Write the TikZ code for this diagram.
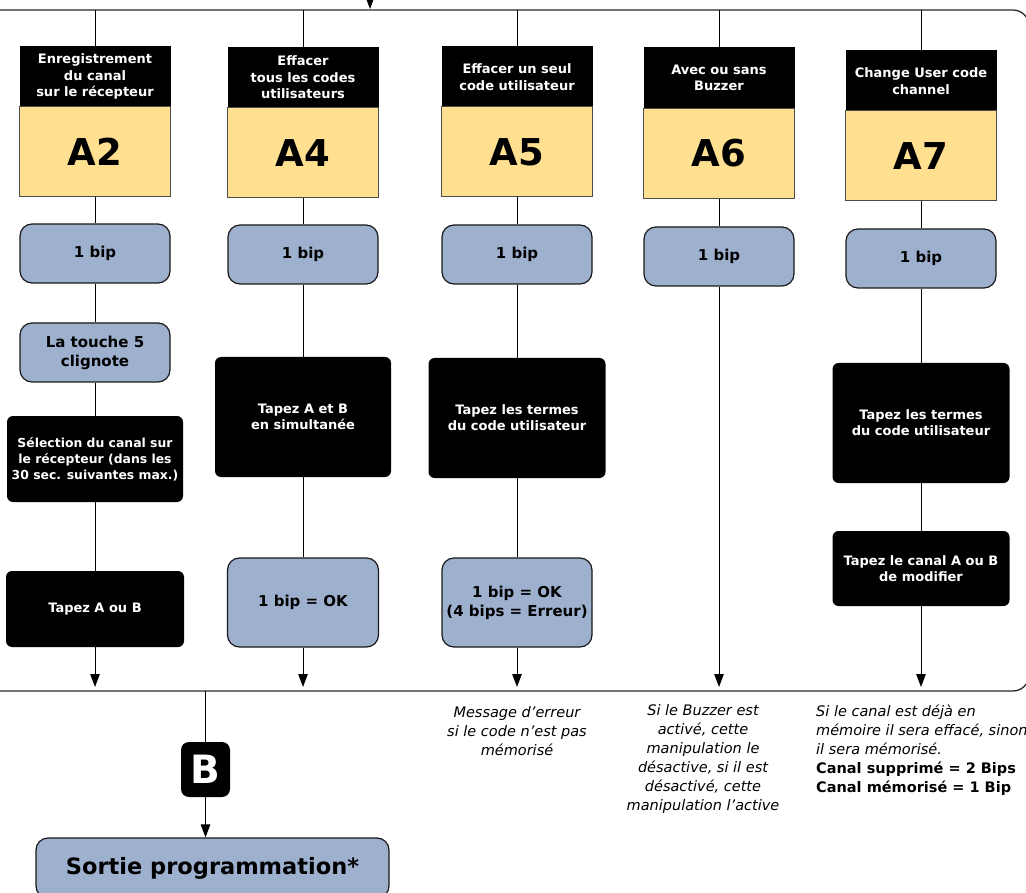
\documentclass[tikz,border=0pt]{standalone}
\usepackage{fontspec}
\setmainfont{DejaVu Sans}
\usetikzlibrary{arrows.meta}
\definecolor{yellowc}{HTML}{FFE091}
\definecolor{bluec}{HTML}{9DB0CE}
\definecolor{framec}{HTML}{2A2A2A}
\tikzset{
  hdr/.style={fill=black, text=white, minimum width=151pt, minimum height=61pt, inner sep=0pt, align=center, font=\bfseries\fontsize{13}{16.5}\selectfont},
  codebox/.style={fill=yellowc, draw=black!70, line width=1pt, minimum width=151pt, minimum height=90pt, inner sep=0pt, font=\bfseries\fontsize{37}{40}\selectfont},
  bluebox/.style={fill=bluec, draw=black!90, line width=1.2pt, rounded corners=12pt, minimum width=150pt, minimum height=59pt, inner sep=0pt, align=center, font=\bfseries\fontsize{15}{19}\selectfont},
  blkbox/.style={fill=black, text=white, rounded corners=6pt, inner sep=0pt, align=center, font=\bfseries\fontsize{13}{16.2}\selectfont},
  conn/.style={draw=black, line width=1pt},
  arr/.style={conn, -{Triangle[length=13pt,width=9.5pt]}},
  note/.style={align=center, font=\itshape\fontsize{14.5}{19}\selectfont, inner sep=0pt}
}
\begin{document}
\begin{tikzpicture}[x=1pt,y=-1pt]
\useasboundingbox (0,0) rectangle (1026,893);
% frame
\draw[framec, line width=1.3pt, rounded corners=16pt] (-30,10) rectangle (1029,691);
% top incoming arrow
\coordinate (topin) at (370,-20);
\coordinate (topend) at (370,9);
\draw[arr] (topin) -- (topend);

% frame top attach points and bottom arrow ends
\foreach \n/\x in {2/95,4/303,5/517,6/719,7/921}{
  \coordinate (t\n) at (\x,10);
  \coordinate (e\n) at (\x,687);
}

% Column A2
\node[hdr] (h2) at (95,76.5) {Enregistrement\\du canal\\sur le récepteur};
\node[codebox] (y2) at (95,152) {A2};
\node[bluebox] (b2) at (95,253.5) {1 bip};
\node[bluebox] (l2) at (95,352.5) {La touche 5\\clignote};
\node[blkbox, minimum width=176pt, minimum height=86pt, font=\bfseries\fontsize{12.4}{16}\selectfont] (s2) at (95,459) {Sélection du canal sur\\le récepteur (dans les\\30 sec. suivantes max.)};
\node[blkbox, minimum width=178pt, minimum height=76pt] (k2) at (95,609) {Tapez A ou B};

% Column A4
\node[hdr] (h4) at (303,77.5) {Effacer\\tous les codes\\utilisateurs};
\node[codebox] (y4) at (303,153) {A4};
\node[bluebox] (b4) at (303,254.5) {1 bip};
\node[blkbox, minimum width=176pt, minimum height=120pt] (k4) at (303,417) {Tapez A et B\\en simultanée};
\node[bluebox, minimum width=151pt, minimum height=89pt] (o4) at (303,602.5) {1 bip = OK};

% Column A5
\node[hdr] (h5) at (517,77) {Effacer un seul\\code utilisateur};
\node[codebox] (y5) at (517,152) {A5};
\node[bluebox] (b5) at (517,254.5) {1 bip};
\node[blkbox, minimum width=177pt, minimum height=120pt] (k5) at (517,418) {Tapez les termes\\du code utilisateur};
\node[bluebox, minimum width=150pt, minimum height=89pt] (o5) at (517,602.5) {1 bip = OK\\(4 bips = Erreur)};

% Column A6
\node[hdr] (h6) at (719,78) {Avec ou sans\\Buzzer};
\node[codebox] (y6) at (719,153.5) {A6};
\node[bluebox] (b6) at (719,256.5) {1 bip};

% Column A7
\node[hdr] (h7) at (921,81) {Change User code\\channel};
\node[codebox] (y7) at (921,156) {A7};
\node[bluebox] (b7) at (921,258.5) {1 bip};
\node[blkbox, minimum width=177pt, minimum height=120pt] (k7) at (921,423) {Tapez les termes\\du code utilisateur};
\node[blkbox, minimum width=177pt, minimum height=75pt] (c7) at (921,568.5) {Tapez le canal A ou B\\de modifier};

% connectors
\draw[conn] (t2) -- (h2);
\draw[conn] (y2) -- (b2);
\draw[conn] (b2) -- (l2);
\draw[conn] (l2) -- (s2);
\draw[conn] (s2) -- (k2);
\draw[arr] (k2) -- (e2);

\draw[conn] (t4) -- (h4);
\draw[conn] (y4) -- (b4);
\draw[conn] (b4) -- (k4);
\draw[conn] (k4) -- (o4);
\draw[arr] (o4) -- (e4);

\draw[conn] (t5) -- (h5);
\draw[conn] (y5) -- (b5);
\draw[conn] (b5) -- (k5);
\draw[conn] (k5) -- (o5);
\draw[arr] (o5) -- (e5);

\draw[conn] (t6) -- (h6);
\draw[conn] (y6) -- (b6);
\draw[arr] (b6) -- (e6);

\draw[conn] (t7) -- (h7);
\draw[conn] (y7) -- (b7);
\draw[conn] (b7) -- (k7);
\draw[conn] (k7) -- (c7);
\draw[arr] (c7) -- (e7);

% exit part
\coordinate (fb) at (205.5,691);
\node[fill=black, text=white, rounded corners=8pt, minimum width=49pt, minimum height=55pt, inner sep=0pt, font=\bfseries\fontsize{39}{40}\selectfont] (B) at (205.5,769.5) {B};
\node[bluebox, minimum width=353pt, minimum height=60pt, font=\bfseries\fontsize{22.5}{26}\selectfont] (sortie) at (212.5,868) {Sortie programmation*};
\draw[conn] (fb) -- (B);
\draw[arr] (B.south) -- (B.south |- sortie.north);

% notes
\node[note] (n5) at (517,731) {Message d’erreur\\si le code n’est pas\\mémorisé};
\node[note] (n6) at (703,759) {Si le Buzzer est\\activé, cette\\manipulation le\\désactive, si il est\\désactivé, cette\\manipulation l’active};
\node[note, align=left, anchor=north west] (n7) at (816,704.5) {Si le canal est déjà en\\mémoire il sera effacé, sinon\\il sera mémorisé.\\\textbf{\upshape Canal supprimé = 2 Bips}\\\textbf{\upshape Canal mémorisé = 1 Bip}};
\end{tikzpicture}
\end{document}
